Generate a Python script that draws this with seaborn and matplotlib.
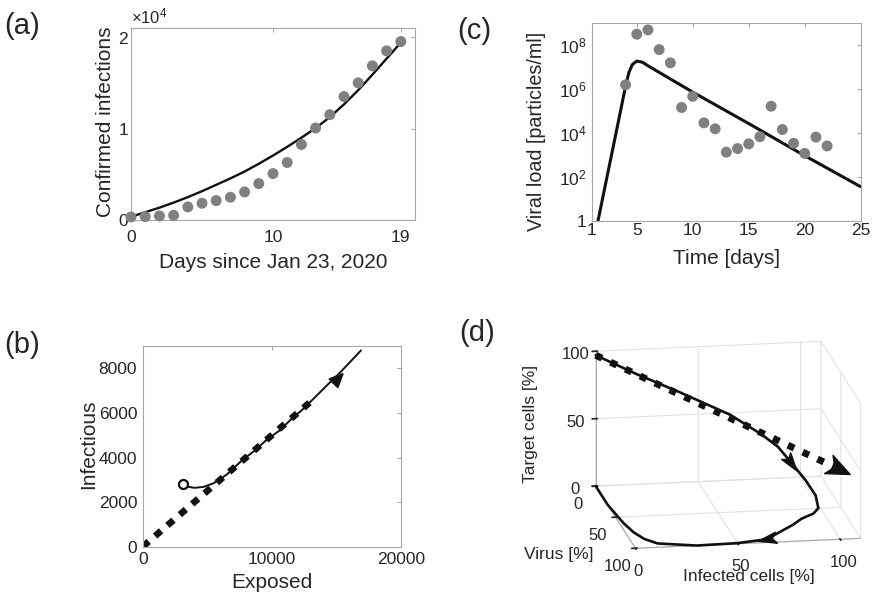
import matplotlib
matplotlib.use("Agg")
import matplotlib.pyplot as plt
import seaborn as sns
import numpy as np
import pandas as pd
from matplotlib.markers import MarkerStyle
from matplotlib.path import Path
from matplotlib.transforms import Affine2D
from matplotlib.ticker import ScalarFormatter, NullLocator

# ---------------- data ----------------
# (a) confirmed infections
days_a = list(range(20))
confirmed = [330, 370, 440, 510, 1430, 1830, 2120, 2490, 3070, 3980, 5080, 6290,
             8260, 10060, 11520, 13500, 15000, 16860, 18500, 19520]
fit_days_a = list(range(20))
fit_confirmed = [350, 850, 1350, 1900, 2500, 3150, 3850, 4550, 5300, 6150, 7050, 8000,
                 9000, 10050, 11250, 12650, 14200, 15900, 17650, 19400]

# (c) viral load
days_c = [4, 5, 6, 7, 8, 9, 10, 11, 12, 13, 14, 15, 16, 17, 18, 19, 20, 21, 22]
viral_load = [1.5e6, 3.0e8, 4.7e8, 6.0e7, 1.5e7, 1.4e5, 4.5e5, 2.8e4, 1.5e4, 1.3e3,
              1.9e3, 3.1e3, 6.6e3, 1.6e5, 1.4e4, 3.3e3, 1.15e3, 6.3e3, 2.5e3]
fit_days_c = [1.2, 1.54, 2.0, 3.0, 4.0, 4.3, 4.6, 5.0, 5.5, 6.0, 10.0, 15.0, 20.0, 25.0]
fit_viral = [0.15, 1.0, 14, 4.2e3, 1.3e6, 5.5e6, 1.25e7, 1.8e7, 1.6e7, 1.1e7, 7.0e5,
             2.6e4, 9.0e2, 35]

# (b) phase plane
exposed_traj = [3150, 3500, 4000, 4700, 5500, 6500, 7700, 8700, 9600, 10600, 11500,
                12300, 13200, 14500, 15300, 16900]
infectious_traj = [2800, 2690, 2640, 2680, 2850, 3230, 3880, 4320, 4800, 5210, 5720,
                   6110, 6620, 7370, 7820, 8800]
exposed_lin = [0, 13300]
infectious_lin = [0, 6650]

# (d) 3-D trajectory (percent)
infected_d = [0, 20, 41, 65, 80, 88, 94, 99, 101, 99, 95, 88, 82, 65, 50, 30, 12, 7, 4,
              2, 1, 0, 0]
virus_d = [0, 1, 2, 3, 4, 5, 8, 18, 33, 50, 58, 65, 74, 95, 99, 100, 94, 86, 75, 60,
           45, 30, 0]
target_d = [97, 82, 67.5, 50, 35, 25.6, 14.6, 6, 1.5, 0, 0, 0, 0, 0, 0, 0, 0, 0, 0, 0,
            0, 0, 0]
infected_lin = [0, 105]
virus_lin = [0, 70]
target_lin = [97, 38]

# ---------------- style ----------------
sns.set_theme(style="white")
plt.rcParams["font.family"] = ["Liberation Sans", "DejaVu Sans"]
plt.rcParams["mathtext.fontset"] = "custom"
plt.rcParams["mathtext.rm"] = "Liberation Sans"
plt.rcParams["mathtext.it"] = "Liberation Sans:italic"
plt.rcParams["mathtext.bf"] = "Liberation Sans:bold"
plt.rcParams["grid.color"] = "#e2e2e2"
plt.rcParams["grid.linewidth"] = 0.8

TXT = "#262626"
SPINE = "#a8a8a8"
DOT = "#808080"
TICK_FS = 12.5
LAB_FS = 15

W, H = 876, 601
fig = plt.figure(figsize=(W / 100, H / 100), dpi=100)


def rect(l, t, r, b):
    return [l / W, 1 - b / H, (r - l) / W, (b - t) / H]


def style2d(ax, xpad, ypad):
    for s in ax.spines.values():
        s.set_color(SPINE)
        s.set_linewidth(0.8)
    ax.tick_params(direction="in", length=3, width=0.6, color="#909090",
                   labelcolor=TXT, labelsize=TICK_FS, top=True, right=True)
    ax.tick_params(axis="x", pad=xpad)
    ax.tick_params(axis="y", pad=ypad)


# ---------------- (a) ----------------
ax_a = fig.add_axes(rect(131, 28, 415, 220))
sns.lineplot(x=fit_days_a, y=fit_confirmed, ax=ax_a, color="#111111", lw=1.7)
sns.scatterplot(x=days_a, y=confirmed, ax=ax_a, color=DOT, s=62, edgecolor="none",
                clip_on=False, zorder=3)
ax_a.set_xlim(0, 20)
ax_a.set_ylim(0, 21000)
ax_a.set_xticks([0, 10, 19])
ax_a.set_yticks([0, 10000, 20000])
fmt = ScalarFormatter(useMathText=True)
fmt.set_powerlimits((0, 0))
ax_a.yaxis.set_major_formatter(fmt)
ax_a.yaxis.get_offset_text().set_fontsize(12)
ax_a.yaxis.get_offset_text().set_color(TXT)
style2d(ax_a, 7, 1.5)
ax_a.set_xlabel("Days since Jan 23, 2020", fontsize=LAB_FS, color=TXT, va="top")
ax_a.set_ylabel("Confirmed infections", fontsize=LAB_FS, color=TXT)
ax_a.xaxis.set_label_coords(0.5, -0.171)
ax_a.yaxis.set_label_coords(-0.058, 0.512)

# ---------------- (c) ----------------
ax_c = fig.add_axes(rect(592, 22.7, 860.7, 220.7))
sns.lineplot(x=fit_days_c, y=fit_viral, ax=ax_c, color="#111111", lw=2.2)
sns.scatterplot(x=days_c, y=viral_load, ax=ax_c, color=DOT, s=62, edgecolor="none",
                clip_on=False, zorder=3)
ax_c.set_yscale("log")
ax_c.set_xlim(1, 25)
ax_c.set_ylim(1, 1e9)
ax_c.set_xticks([1, 5, 10, 15, 20, 25])
ax_c.set_yticks([1, 1e2, 1e4, 1e6, 1e8])
ax_c.set_yticklabels(["1", r"$10^{2}$", r"$10^{4}$", r"$10^{6}$", r"$10^{8}$"])
ax_c.yaxis.set_minor_locator(NullLocator())
style2d(ax_c, 2, 4)
ax_c.set_xlabel("Time [days]", fontsize=LAB_FS, color=TXT, va="top")
ax_c.set_ylabel("Viral load [particles/ml]", fontsize=14.2, color=TXT)
ax_c.xaxis.set_label_coords(0.5, -0.145)
ax_c.yaxis.set_label_coords(-0.172, 0.449)

# ---------------- (b) ----------------
ax_b = fig.add_axes(rect(142.7, 346, 401, 546.7))
sns.lineplot(x=exposed_lin, y=infectious_lin, ax=ax_b, color="#111111", lw=4.8,
             linestyle=(0, (1.2, 1.25)), solid_capstyle="butt", dash_capstyle="butt")
sns.lineplot(x=exposed_traj, y=infectious_traj, ax=ax_b, color="#111111", lw=1.4,
             sort=False)
ax_b.plot([exposed_traj[0]], [infectious_traj[0]], marker="o", ms=6.5, mfc="white",
          mec="#111111", mew=1.6, zorder=4)
ax_b.annotate("", xy=(15600, 7810), xytext=(15000, 7460),
              arrowprops=dict(arrowstyle="-|>,head_length=0.7,head_width=0.32",
                              mutation_scale=13, color="#111111", lw=1.4,
                              shrinkA=0, shrinkB=0))
ax_b.set_xlim(0, 20000)
ax_b.set_ylim(0, 9000)
ax_b.set_xticks([0, 10000, 20000])
ax_b.set_yticks([0, 2000, 4000, 6000, 8000])
style2d(ax_b, 3.6, 4)
ax_b.set_xlabel("Exposed", fontsize=LAB_FS, color=TXT, va="top")
ax_b.set_ylabel("Infectious", fontsize=LAB_FS, color=TXT)
ax_b.xaxis.set_label_coords(0.5, -0.13)
ax_b.yaxis.set_label_coords(-0.174, 0.511)

# ---------------- (d) ----------------
ax_d = fig.add_axes(rect(544.5, 311, 904.5, 586), projection="3d")
ax_d.set_proj_type("ortho")
ax_d.set_facecolor("none")
ax_d.set_box_aspect((232, 244, 142), zoom=1.27)
ax_d.view_init(elev=15.2, azim=-99.5)


def arrow_marker(angle, w=0.62, notch=0.55):
    verts = [(1, 0), (-1, w), (-notch, 0), (-1, -w), (1, 0)]
    codes = [Path.MOVETO, Path.LINETO, Path.LINETO, Path.LINETO, Path.CLOSEPOLY]
    return MarkerStyle(Path(verts, codes), transform=Affine2D().rotate_deg(angle))


ax_d.plot(infected_lin, virus_lin, target_lin, color="#111111", lw=5,
          linestyle=(0, (1.0, 1.35)), dash_capstyle="butt")
ax_d.plot([infected_lin[1]], [virus_lin[1]], [target_lin[1]], linestyle="none",
          marker=arrow_marker(-25, w=0.85, notch=0.45), ms=17, color="#111111")
ax_d.plot(infected_d, virus_d, target_d, color="#111111", lw=1.9)
ax_d.plot([infected_d[6]], [virus_d[6]], [target_d[6]], linestyle="none",
          marker=arrow_marker(-54), ms=13, color="#111111")
ax_d.plot([infected_d[13]], [virus_d[13]], [target_d[13]], linestyle="none",
          marker=arrow_marker(191), ms=13, color="#111111")

ax_d.set_xlim(0, 110)
ax_d.set_ylim(100, 0)
ax_d.set_zlim(0, 100)
ax_d.set_xticks([0, 50, 100])
ax_d.set_yticks([0, 50, 100])
ax_d.set_zticks([0, 50, 100])
for axis in (ax_d.xaxis, ax_d.yaxis, ax_d.zaxis):
    axis.set_pane_color((1, 1, 1, 0))
    axis.pane.set_edgecolor("#dcdcdc")
    axis.line.set_color(SPINE)
    axis.line.set_linewidth(0.8)
ax_d.tick_params(labelsize=12, colors=TXT, pad=0)

fig.text(749 / W, 1 - 577 / H, "Infected cells [%]", fontsize=12.5, color=TXT,
         ha="center", va="center")
fig.text(559 / W, 1 - 554 / H, "Virus [%]", fontsize=12.5, color=TXT,
         ha="center", va="center")
fig.text(530.5 / W, 1 - 423.5 / H, "Target cells [%]", fontsize=12.5, color=TXT,
         ha="center", va="center", rotation=90)

# ---------------- panel letters ----------------
for txt, x, y in [("(a)", 4, 26), ("(c)", 457, 31), ("(b)", 4, 345), ("(d)", 459, 333)]:
    fig.text(x / W, 1 - y / H, txt, fontsize=21, color=TXT, va="center", ha="left")

fig.savefig("out.png", dpi=100)
